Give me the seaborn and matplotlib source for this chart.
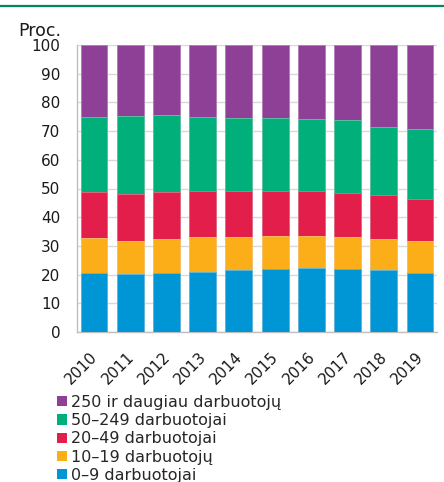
import matplotlib
matplotlib.use("Agg")
import matplotlib.pyplot as plt
import matplotlib.transforms as mtransforms
from matplotlib.patches import Patch
from matplotlib.lines import Line2D
import seaborn as sns
import pandas as pd
import numpy as np

years = ["2010", "2011", "2012", "2013", "2014", "2015", "2016", "2017", "2018", "2019"]
s_0_9 = [20.6, 20.2, 20.6, 21.0, 21.7, 22.1, 22.4, 21.8, 21.6, 20.7]
s_10_19 = [12.2, 11.6, 11.8, 12.0, 11.5, 11.5, 11.0, 11.3, 10.8, 10.9]
s_20_49 = [15.9, 16.4, 16.4, 16.0, 15.8, 15.6, 15.6, 15.3, 15.2, 14.9]
s_50_249 = [26.2, 26.9, 26.7, 26.0, 25.4, 25.4, 25.2, 25.4, 23.7, 24.1]
s_250 = [25.1, 24.9, 24.5, 25.0, 25.6, 25.4, 25.8, 26.2, 28.7, 29.4]

labels = ["0–9 darbuotojai", "10–19 darbuotojų", "20–49 darbuotojai",
          "50–249 darbuotojai", "250 ir daugiau darbuotojų"]
series = [s_0_9, s_10_19, s_20_49, s_50_249, s_250]
colors = ["#0096D6", "#FBAE17", "#E31E4A", "#00AF7A", "#8E3F96"]
edgecols = ["#5FB8E3", "#F8C86A", "#EC6A86", "#5FC9A3", "#B07BB4"]

sns.set_theme(style="white")
plt.rcParams["font.family"] = ["DejaVu Sans"]

fig = plt.figure(figsize=(4.44, 4.82), dpi=100)
ax = fig.add_axes([77/444, 1 - 332/482, (437 - 77)/444, (332 - 45)/482])

df = pd.DataFrame({"year": years})
cum = np.cumsum(np.array(series), axis=0)
# draw cumulative totals from the top layer down
for i in range(len(series) - 1, -1, -1):
    df["val"] = cum[i]
    sns.barplot(data=df, x="year", y="val", color=colors[i], ax=ax,
                width=0.74, saturation=1, edgecolor=edgecols[i], linewidth=0.6,
                zorder=3)

ax.set_ylim(0, 100)
ax.set_xlim(-0.47, 9.47)
ax.set_yticks(range(0, 101, 10))
ax.set_xlabel("")
ax.set_ylabel("")
ax.yaxis.grid(True, color="#D9D9D9", linewidth=1.0, zorder=0)
ax.set_axisbelow(True)
for sp in ["top", "right"]:
    ax.spines[sp].set_visible(False)
ax.spines["left"].set_color("#BFBFBF")
ax.spines["bottom"].set_color("#BFBFBF")
ax.spines["left"].set_linewidth(1.0)
ax.spines["bottom"].set_linewidth(1.0)
ax.tick_params(axis="both", length=0, labelsize=11, colors="#1a1a1a")
ax.tick_params(axis="y", pad=12)
ax.tick_params(axis="x", pad=9)
shift = mtransforms.ScaledTranslation(-4/100, -5/100, fig.dpi_scale_trans)
for lab in ax.get_xticklabels():
    lab.set_rotation(45)
    lab.set_ha("right")
    lab.set_rotation_mode("anchor")
    lab.set_transform(lab.get_transform() + shift)

fig.text(18/444, 1 - 36/482, "Proc.", fontsize=12.5, color="#1a1a1a", ha="left", va="baseline")

handles = [Patch(facecolor=colors[i], edgecolor="none") for i in range(len(series) - 1, -1, -1)]
leg_labels = [labels[i] for i in range(len(series) - 1, -1, -1)]
fig.legend(handles, leg_labels, loc="upper left", bbox_to_anchor=(57/444, 1 - 395/482),
           frameon=False, fontsize=11.5, handlelength=0.6, handleheight=0.6,
           handletextpad=0.3, labelspacing=0.2, borderpad=0, borderaxespad=0)

fig.add_artist(Line2D([0, 1], [1 - 5.5/482, 1 - 5.5/482], color="#00875A",
                      linewidth=1.6, transform=fig.transFigure))

fig.savefig("out.png", dpi=100)
